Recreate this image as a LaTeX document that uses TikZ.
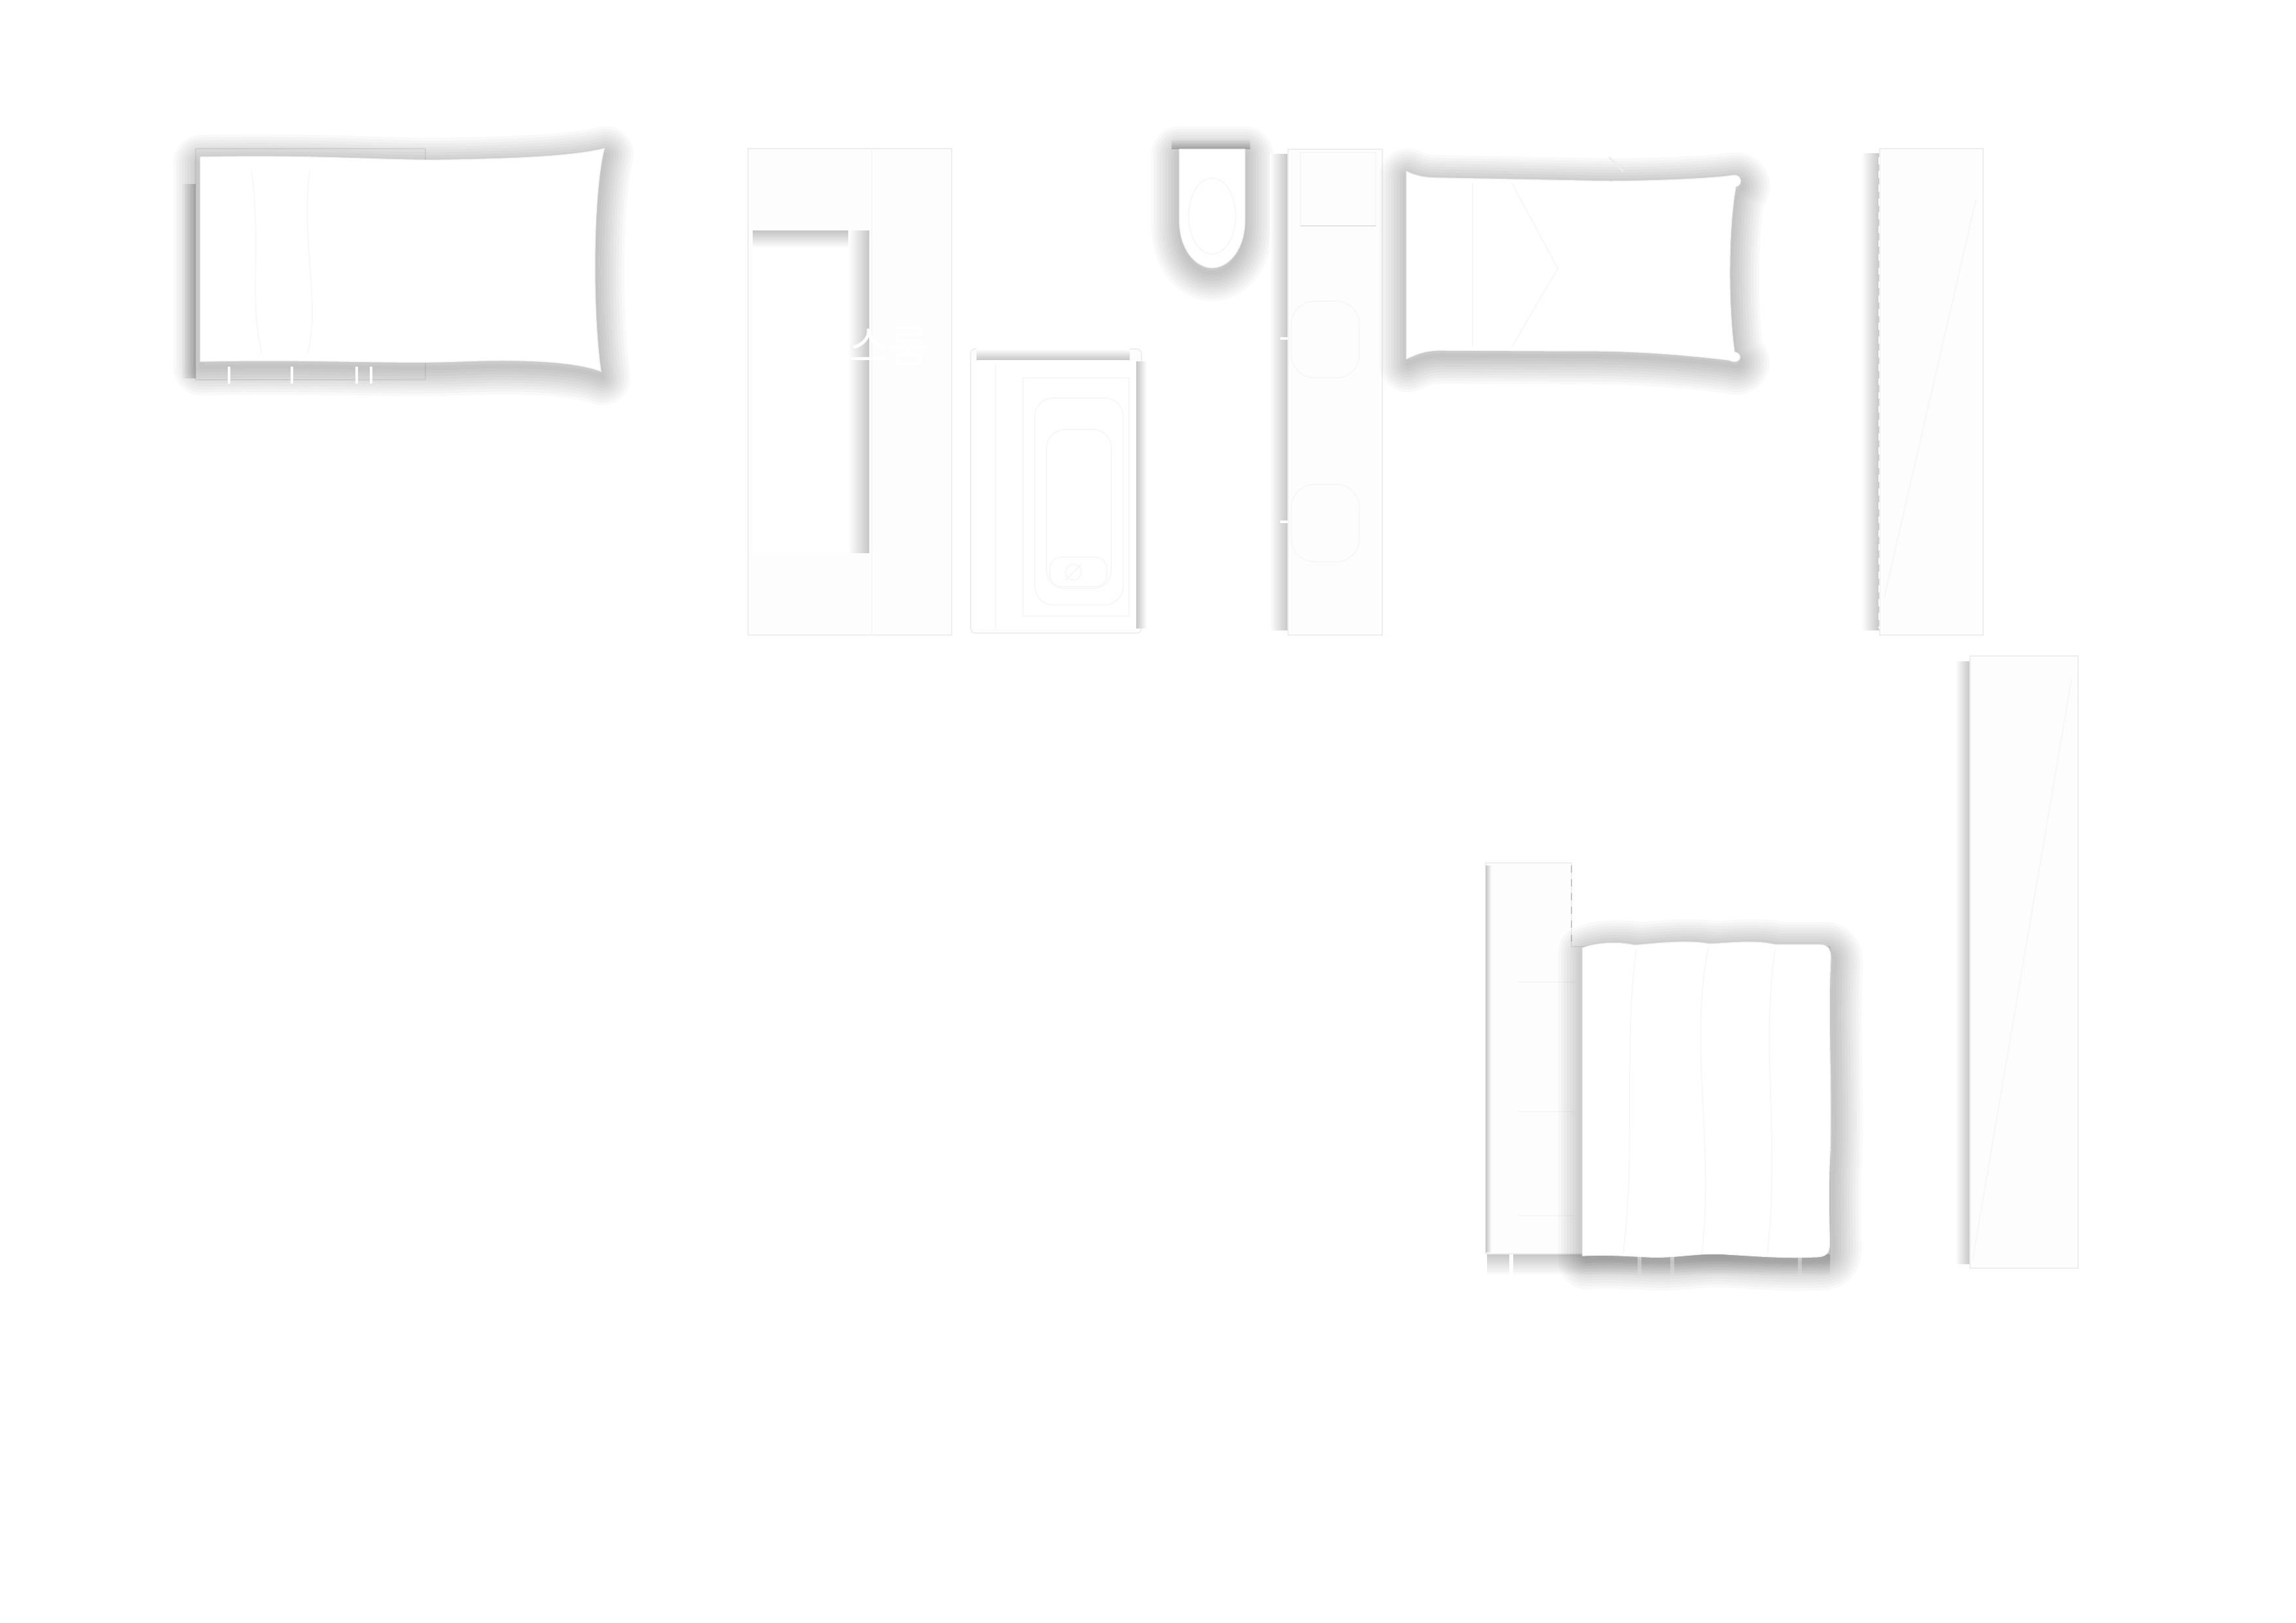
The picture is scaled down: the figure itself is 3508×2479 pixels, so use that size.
\documentclass[tikz,border=0pt]{standalone}
\usepackage{fontspec}
\newfontfamily\krfont{Noto Sans CJK KR}
\definecolor{paperwhite}{HTML}{FDFDFD}
\definecolor{edgegray}{HTML}{EEEEEE}
\definecolor{dropgray}{HTML}{C6C6C6}
\definecolor{seamgray}{HTML}{F7F7F7}
\tikzset{
	plate/.style={fill=paperwhite, draw=edgegray, line width=0.5pt},
	cushion/.style={fill=white, draw=white!96!black, line width=0.4pt},
	shadowpen/.style={draw=black, draw opacity=0.024, line join=round},
	seam/.style={draw=seamgray, line width=0.5pt},
}
% soft shadow: the outline stroked wider and wider, shifted by #1
\def\softshadow[#1]#2{\foreach \w in {2,4.5,...,24.5} \draw[shadowpen, line width=\w pt, shift={(#1)}] #2;}
\def\pillowleft{(306,240) .. controls (500,236) and (600,247) .. (700,244) .. controls (800,242) and (880,238) .. (923,227) .. controls (905,300) and (905,480) .. (918,567) .. controls (880,552) and (800,548) .. (700,552) .. controls (600,556) and (480,548) .. (306,552) -- cycle}
\def\toiletseat{(1802,228) -- (1802,335) .. controls (1802,385) and (1830,409) .. (1852,409) .. controls (1874,409) and (1902,385) .. (1902,335) -- (1902,228) -- cycle}
\def\pillowright{(2149,262) .. controls (2165,270) and (2180,272) .. (2200,272) -- (2460,277) .. controls (2560,276) and (2620,272) .. (2648,268) .. controls (2660,266) and (2664,282) .. (2652,285) .. controls (2640,350) and (2640,470) .. (2650,538) .. controls (2664,540) and (2660,558) .. (2642,550) .. controls (2560,540) and (2480,535) .. (2400,536) -- (2200,535) .. controls (2180,535) and (2165,540) .. (2149,548) -- cycle}
\def\bedbase{(2270,1318) -- (2401,1318) -- (2401,1446) -- (2796,1446) -- (2796,1915) -- (2270,1915) -- cycle}
\def\bedcushion{(2418,1448) .. controls (2440,1440) and (2470,1438) .. (2498,1444) .. controls (2540,1440) and (2580,1436) .. (2612,1442) .. controls (2650,1440) and (2680,1436) .. (2712,1443) -- (2780,1443) .. controls (2792,1443) and (2797,1450) .. (2797,1462) .. controls (2792,1550) and (2800,1700) .. (2795,1780) .. controls (2793,1850) and (2796,1890) .. (2795,1905) .. controls (2793,1918) and (2785,1920) .. (2770,1920) .. controls (2720,1922) and (2680,1918) .. (2640,1916) .. controls (2600,1912) and (2560,1922) .. (2520,1920) .. controls (2480,1918) and (2450,1916) .. (2418,1918) -- cycle}

\begin{document}
\begin{tikzpicture}[x=0.01cm, y=-0.01cm]
		%%%%% START %%%%%
		\useasboundingbox[fill=white] (0,0) rectangle (3508,2479);
		
		% pillow on the left
		\draw[plate] (299,227) rectangle (650,580);
		\shade[left color=white, right color=dropgray] (277,282) rectangle (299,578);
		\softshadow[2,9]{\pillowleft}
		\draw[cushion] \pillowleft;
		\draw[seam] (384,260) .. controls (400,380) and (380,460) .. (400,540);
		\draw[seam] (473,260) .. controls (460,380) and (490,460) .. (470,540);
		\foreach \x in {350,446,545,567}
			\draw[white, line width=1.2pt] (\x,560) -- (\x,586);
		
		% dress room
		\draw[plate] (1143,227) rectangle (1454,970);
		\draw[seam] (1332,227) -- (1332,970);
		\fill[white] (1150,353) rectangle (1328,844);
		\shade[top color=dropgray, bottom color=white] (1150,353) rectangle (1328,378);
		\shade[left color=white, right color=dropgray] (1296,353) rectangle (1328,844);
		\node[text=white, font=\krfont\fontsize{19}{22}\selectfont] (dressroom) at (1297,528) {드레스룸};
		
		% cabinet
		\draw[plate, rounded corners=2] (1483,533) rectangle (1744,967);
		\shade[top color=white, bottom color=dropgray] (1492,533) rectangle (1726,550);
		\fill[white] (1492,550) rectangle (1736,959);
		\shade[left color=dropgray, right color=white] (1736,553) rectangle (1752,959);
		\draw[seam] (1521,556) -- (1521,960);
		\draw[seam] (1563,577) rectangle (1725,941);
		\draw[seam, rounded corners=8] (1581,608) rectangle (1716,924);
		\draw[seam, rounded corners=8] (1599,656) rectangle (1698,899);
		\draw[seam, rounded corners=5] (1604,851) rectangle (1691,896);
		\draw[seam] (1640,874) circle (12);
		\draw[seam] (1628,886) -- (1652,862);
		
		% toilet
		\shade[top color=white, bottom color=dropgray] (1790,212) rectangle (1910,228);
		\softshadow[0,8]{\toiletseat}
		\draw[cushion] \toiletseat;
		\draw[seam] (1852,330) ellipse (36 and 58);
		
		% wall panel
		\shade[left color=white, right color=dropgray] (1940,236) rectangle (1968,962);
		\draw[plate] (1968,228) rectangle (2112,970);
		\draw[seam] (1987,233) rectangle (2102,345);
		\draw[dropgray!50!white] (1987,345) -- (2102,345);
		\draw[seam, rounded corners=10] (1973,460) rectangle (2077,577);
		\draw[seam, rounded corners=10] (1973,740) rectangle (2077,858);
		\foreach \y in {517,797}
			\draw[white, line width=1pt] (1956,\y) -- (1968,\y);
		
		% pillow on the right
		\softshadow[2,8]{\pillowright}
		\draw[cushion] \pillowright;
		\draw[seam] (2250,280) -- (2250,530);
		\draw[seam] (2310,280) -- (2380,410) -- (2310,530);
		\draw[edgegray, line width=0.8pt] (2458,240) -- (2480,262);
		
		% tall panel, top right
		\shade[left color=white, right color=dropgray] (2844,235) rectangle (2872,962);
		\draw[plate] (2872,227) rectangle (3030,970);
		\draw[seam] (3019,305) -- (2879,912);
		\draw[white, dashed, line width=0.8pt] (2871,240) -- (2871,960);
		
		% tall panel, bottom right
		\shade[left color=white, right color=dropgray] (2987,1010) rectangle (3010,1930);
		\draw[plate] (3010,1002) rectangle (3175,1937);
		\draw[seam] (3165,1037) -- (3014,1924);
		
		% bed
		\shade[top color=dropgray, bottom color=white] (2272,1915) rectangle (2796,1948);
		\foreach \x in {2309,2505,2555,2750}
			\draw[white, line width=1.5pt] (\x,1915) -- (\x,1950);
		\draw[plate] \bedbase;
		\shade[left color=dropgray, right color=white] (2270,1322) rectangle (2279,1912);
		\draw[dropgray, dashed] (2401,1322) -- (2401,1446);
		\foreach \y in {1500,1698,1857}
			\draw[seam] (2320,\y) -- (2405,\y);
		\softshadow[6,8]{\bedcushion}
		\draw[cushion] \bedcushion;
		\draw[seam] (2500,1450) .. controls (2480,1600) and (2500,1750) .. (2480,1915);
		\draw[seam] (2610,1448) .. controls (2580,1600) and (2620,1750) .. (2600,1915);
		\draw[seam] (2712,1450) .. controls (2690,1600) and (2720,1750) .. (2700,1915);
		
		%%%%% END %%%%%
\end{tikzpicture}
\end{document}
